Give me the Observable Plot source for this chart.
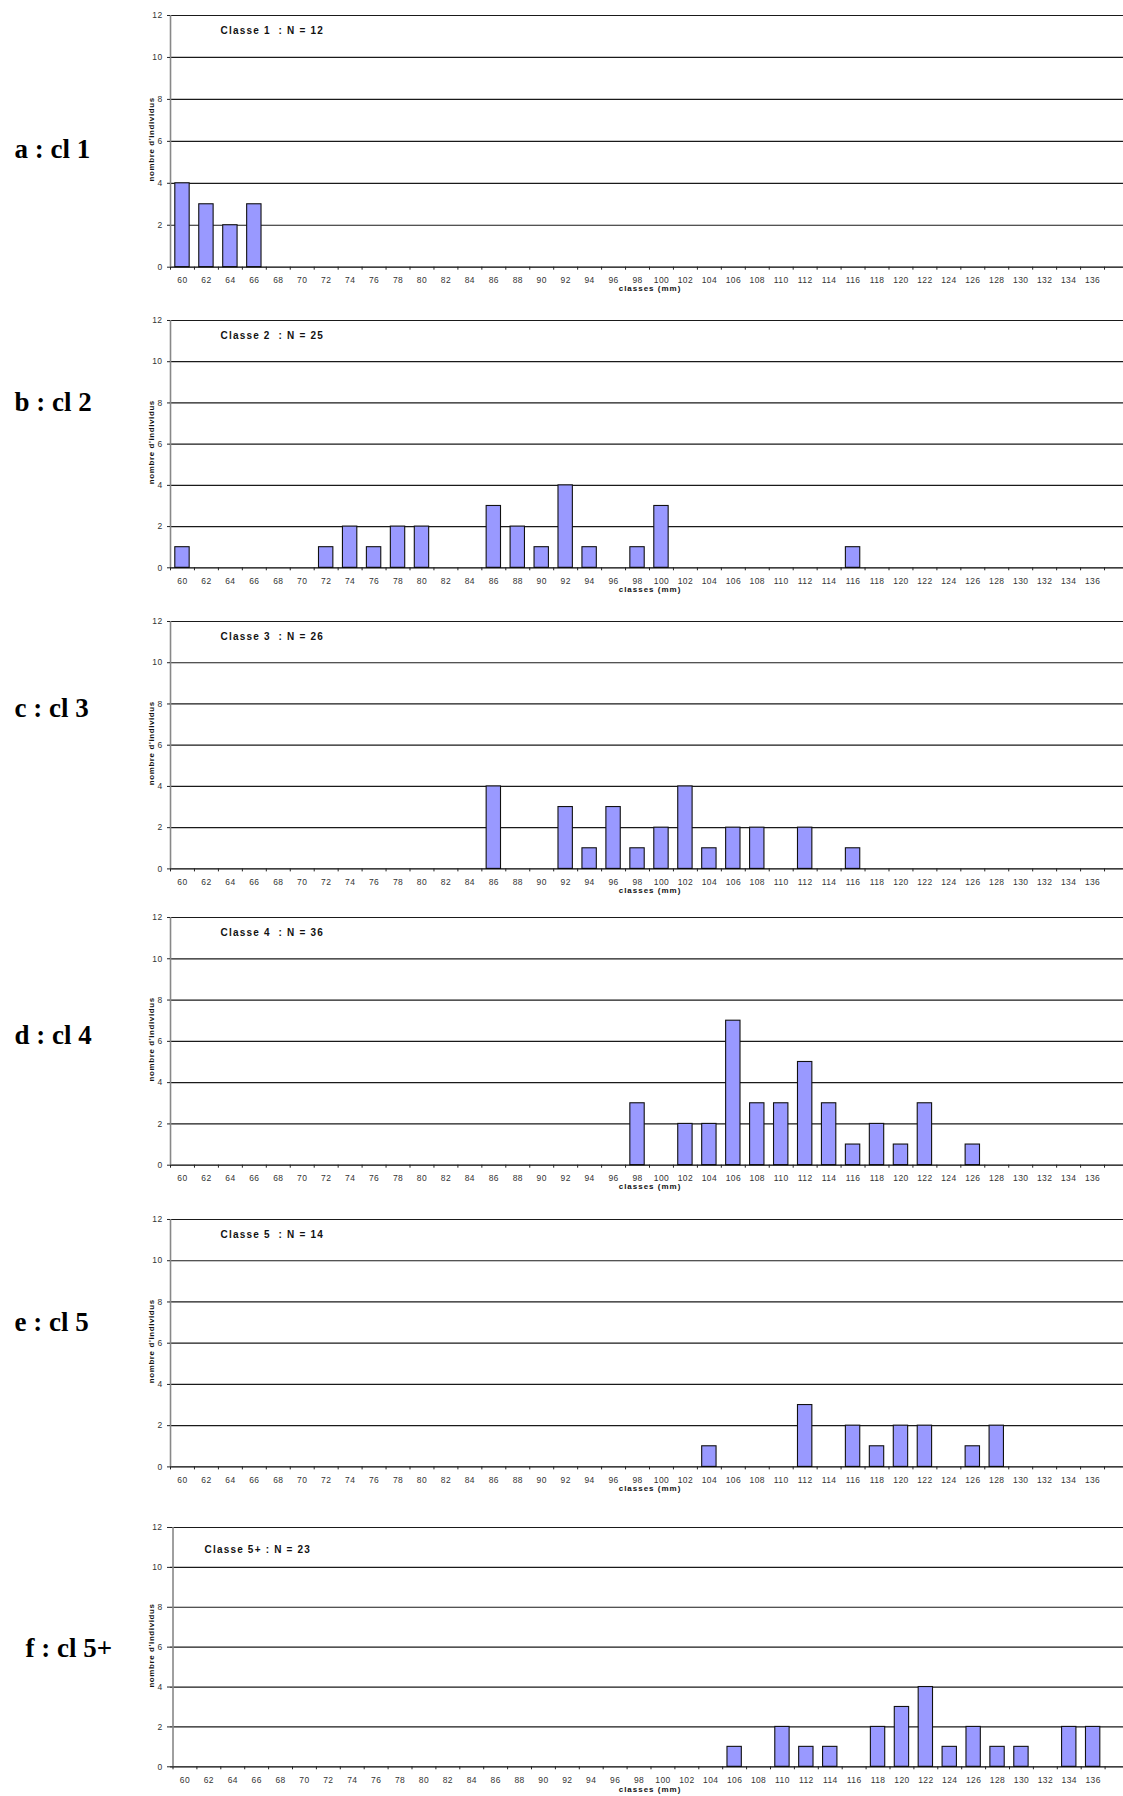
<!DOCTYPE html>
<html><head><meta charset="utf-8">
<script src="https://cdn.jsdelivr.net/npm/d3@7"></script>
<script src="https://cdn.jsdelivr.net/npm/@observablehq/plot@0.6"></script>
<style>
html,body{margin:0;padding:0;background:#fff;overflow:hidden}
#root{position:relative;width:1123px;height:1796px;overflow:hidden;background:#fff}
#root svg{position:absolute;left:0}
</style></head><body><div id="root"></div>
<script>
// ---- data ----
const xTickLabels = [60,62,64,66,68,70,72,74,76,78,80,82,84,86,88,90,92,94,96,98,100,102,104,106,108,110,112,114,116,118,120,122,124,126,128,130,132,134,136];
const yTickValues = [0,2,4,6,8,10,12];

const cl1Classes = [60,62,64,66];
const cl1Counts  = [4,3,2,3];
const cl2Classes = [60,72,74,76,78,80,86,88,90,92,94,98,100,116];
const cl2Counts  = [1,1,2,1,2,2,3,2,1,4,1,1,3,1];
const cl3Classes = [86,92,94,96,98,100,102,104,106,108,112,116];
const cl3Counts  = [4,3,1,3,1,2,4,1,2,2,2,1];
const cl4Classes = [98,102,104,106,108,110,112,114,116,118,120,122,126];
const cl4Counts  = [3,2,2,7,3,3,5,3,1,2,1,3,1];
const cl5Classes = [104,112,116,118,120,122,126,128];
const cl5Counts  = [1,3,2,1,2,2,1,2];
const cl5pClasses = [106,110,112,114,118,120,122,124,126,128,130,134,136];
const cl5pCounts  = [1,2,1,1,2,3,4,1,2,1,1,2,2];

const panelNames  = ["a : cl 1","b : cl 2","c : cl 3","d : cl 4","e : cl 5","f : cl 5+"];
const panelTitles = ["Classe 1  : N = 12","Classe 2  : N = 25","Classe 3  : N = 26","Classe 4  : N = 36","Classe 5  : N = 14","Classe 5+ : N = 23"];
const yLabel = "nombre d'individus";
const xLabel = "classes (mm)";

const series = [
  [cl1Classes, cl1Counts],[cl2Classes, cl2Counts],[cl3Classes, cl3Counts],
  [cl4Classes, cl4Counts],[cl5Classes, cl5Counts],[cl5pClasses, cl5pCounts]
];

// ---- layout ----
const layout = [
  {top:15,     bottom:266.7, x0:170,   band:23.95, titleDx:50, titleDy:14.8, nameDx:-156, nameDy:8.3,  ylabDy:-2, xlabDy:21.5},
  {top:320,    bottom:567.3, x0:170,   band:23.95, titleDx:50, titleDy:14.8, nameDx:-156, nameDy:-42,  ylabDy:-2, xlabDy:21.5},
  {top:621.3,  bottom:868.7, x0:170,   band:23.95, titleDx:50, titleDy:14.8, nameDx:-156, nameDy:-37,  ylabDy:-2, xlabDy:21.5},
  {top:917.3,  bottom:1165,  x0:170,   band:23.95, titleDx:50, titleDy:14.8, nameDx:-156, nameDy:-6,   ylabDy:-2, xlabDy:21.5},
  {top:1219.3, bottom:1466.7,x0:170,   band:23.95, titleDx:50, titleDy:14.8, nameDx:-156, nameDy:-21,  ylabDy:-2, xlabDy:21.5},
  {top:1526.7, bottom:1766,  x0:172.5, band:23.9,  titleDx:34, titleDy:21.8, nameDx:-145, nameDy:1.2,  ylabDy:-1.6, xlabDy:22.5}
];
const MT = 20, MB = 40, ML = 170;
const boundaries = d3.range(59, 141, 2);

const root = document.getElementById("root");

series.forEach(([cls, cnt], i) => {
  const L = layout[i];
  const data = cls.map((c, k) => ({c, n: cnt[k]}));
  const h = L.bottom - L.top;
  const chart = Plot.plot({
    width: 1123,
    height: MT + h + MB,
    marginTop: MT, marginBottom: MB, marginLeft: ML, marginRight: 0,
    style: {fontFamily: "'Liberation Sans', Arial, sans-serif", fontSize: "8.5px", color: "#222", background: "transparent", overflow: "hidden"},
    x: {type: "linear", domain: [59, 139], range: [L.x0, L.x0 + 40 * L.band]},
    y: {domain: [0, 12]},
    marks: [
      Plot.ruleY(yTickValues.filter(v => v > 0), {stroke: "#1a1a1a", strokeWidth: 1.2}),
      Plot.rectY(data, {x1: d => d.c - 0.6, x2: d => d.c + 0.6, y: "n", fill: "#9999ff", stroke: "#111", strokeWidth: 1.1}),
      Plot.ruleY([0], {stroke: "#000", strokeWidth: 1.2}),
      Plot.ruleX([59], {stroke: "#888", strokeWidth: 1.6}),
      Plot.axisY({ticks: yTickValues, tickSize: 3, tickPadding: 5, fontSize: 8.5, fill: "#333", label: null}),
      Plot.axisX({ticks: boundaries, tickSize: 3, tickFormat: () => "", label: null}),
      Plot.axisX({ticks: xTickLabels, tickSize: 0, tickPadding: 10, fontSize: 8.5, fill: "#333", label: null}),
      Plot.text([panelTitles[i]], {frameAnchor: "top-left", lineAnchor: "middle", textAnchor: "start", dx: L.titleDx, dy: L.titleDy, fontSize: 10, fontWeight: "bold", fill: "#111"}),
      Plot.text([yLabel], {frameAnchor: "left", rotate: -90, textAnchor: "middle", lineAnchor: "middle", dx: -19.3, dy: L.ylabDy, fontSize: 8, fontWeight: "bold", fill: "#111"}),
      Plot.text([xLabel], {frameAnchor: "bottom", textAnchor: "middle", lineAnchor: "middle", dx: 3, dy: L.xlabDy, fontSize: 8, fontWeight: "bold", fill: "#111"}),
      Plot.text([panelNames[i]], {frameAnchor: "left", textAnchor: "start", lineAnchor: "middle", dx: L.nameDx, dy: L.nameDy, fontSize: 27, fontWeight: "bold", fontFamily: "'Liberation Serif', 'Times New Roman', serif", fill: "#000"})
    ]
  });
  chart.style.top = (L.top - MT) + "px";
  const s = d3.select(chart);
  const byText = t => s.selectAll("text").filter(function() { return this.textContent === t; });
  s.selectAll("text").style("letter-spacing", "0.4px");
  byText(panelTitles[i]).style("letter-spacing", "1.2px").style("white-space", "pre");
  byText(yLabel).style("letter-spacing", "0.6px");
  byText(xLabel).style("letter-spacing", "1px");
  byText(panelNames[i]).style("letter-spacing", "0px");
  root.appendChild(chart);
});
</script>
</body></html>
